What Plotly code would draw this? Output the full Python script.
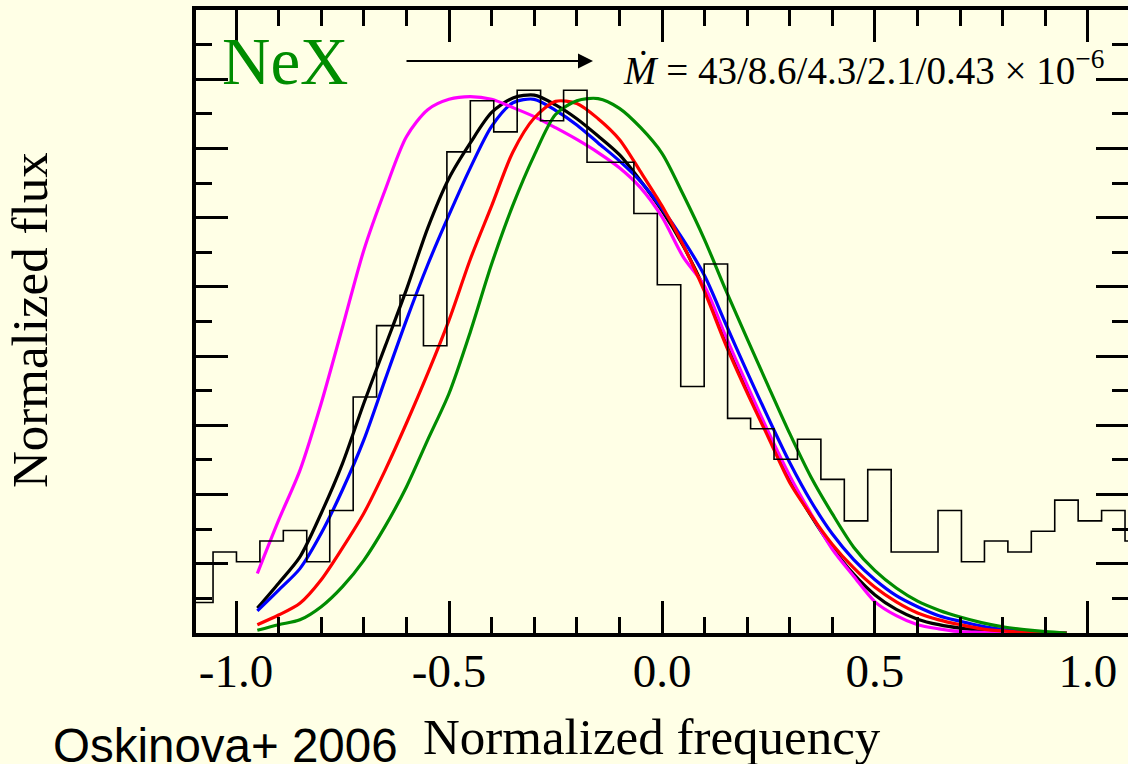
import plotly.graph_objects as go

# ---------------- data ----------------
FREQ = [-0.95, -0.90, -0.85, -0.80, -0.75, -0.70, -0.65, -0.60, -0.55, -0.50,
        -0.45, -0.40, -0.35, -0.30, -0.25, -0.20, -0.15, -0.10, -0.05, 0.00,
        0.05, 0.10, 0.15, 0.20, 0.25, 0.30, 0.35, 0.40, 0.45, 0.50,
        0.55, 0.60, 0.65, 0.70, 0.75, 0.80, 0.85, 0.90, 0.95]

MODEL_43 = [0.086, 0.163, 0.235, 0.332, 0.442, 0.553, 0.640, 0.717, 0.756, 0.771,
            0.775, 0.771, 0.759, 0.746, 0.730, 0.713, 0.694, 0.672, 0.643, 0.601,
            0.543, 0.501, 0.428, 0.358, 0.290, 0.227, 0.172, 0.121, 0.082, 0.045,
            0.025, 0.012, 0.006, 0.002, 0.001, 0.0, 0.0, 0.0, 0.0]
MODEL_8_6 = [0.036, 0.072, 0.110, 0.173, 0.245, 0.332, 0.414, 0.496, 0.585, 0.657,
             0.708, 0.752, 0.773, 0.777, 0.763, 0.743, 0.718, 0.691, 0.653, 0.610,
             0.559, 0.497, 0.423, 0.353, 0.286, 0.222, 0.169, 0.123, 0.085, 0.055,
             0.034, 0.020, 0.012, 0.007, 0.004, 0.002, 0.001, 0.0, 0.0]
MODEL_4_3 = [0.032, 0.062, 0.093, 0.144, 0.207, 0.279, 0.366, 0.452, 0.532, 0.604,
             0.672, 0.732, 0.766, 0.771, 0.755, 0.734, 0.708, 0.682, 0.652, 0.613,
             0.568, 0.516, 0.446, 0.377, 0.310, 0.246, 0.190, 0.143, 0.106, 0.077,
             0.054, 0.038, 0.025, 0.017, 0.010, 0.005, 0.003, 0.001, 0.0]
MODEL_2_1 = [0.012, 0.026, 0.043, 0.077, 0.123, 0.173, 0.235, 0.303, 0.375, 0.452,
             0.540, 0.617, 0.695, 0.744, 0.768, 0.765, 0.743, 0.713, 0.666, 0.617,
             0.560, 0.493, 0.416, 0.347, 0.282, 0.217, 0.170, 0.128, 0.094, 0.066,
             0.045, 0.029, 0.019, 0.012, 0.006, 0.003, 0.001, 0.0, 0.0]
MODEL_0_43 = [0.004, 0.012, 0.019, 0.038, 0.067, 0.105, 0.154, 0.211, 0.279, 0.346,
              0.435, 0.533, 0.618, 0.690, 0.749, 0.769, 0.772, 0.758, 0.730, 0.693,
              0.633, 0.568, 0.495, 0.425, 0.356, 0.288, 0.225, 0.172, 0.124, 0.090,
              0.065, 0.046, 0.033, 0.023, 0.015, 0.009, 0.005, 0.002, 0.0]

BIN_EDGES = [-1.109, -1.054, -0.999, -0.944, -0.889, -0.834, -0.780, -0.725, -0.670, -0.615,
             -0.560, -0.505, -0.450, -0.395, -0.340, -0.285, -0.231, -0.176, -0.121, -0.066,
             -0.011, 0.044, 0.099, 0.154, 0.208, 0.263, 0.318, 0.373, 0.428, 0.483,
             0.538, 0.593, 0.648, 0.703, 0.757, 0.812, 0.867, 0.922, 0.977, 1.032,
             1.087, 1.142]
OBS_FLUX = [0.044, 0.117, 0.103, 0.133, 0.148, 0.103, 0.177, 0.341, 0.444, 0.488,
            0.415, 0.695, 0.769, 0.724, 0.784, 0.740, 0.784, 0.680, 0.680, 0.606,
            0.503, 0.356, 0.533, 0.310, 0.295, 0.251, 0.280, 0.222, 0.162, 0.236,
            0.117, 0.117, 0.177, 0.103, 0.133, 0.117, 0.147, 0.192, 0.162, 0.177,
            0.133]

X_TICKS = [-1.0, -0.5, 0.0, 0.5, 1.0]
X_TICK_TEXT = ["-1.0", "-0.5", "0.0", "0.5", "1.0"]

BG = "#FFFFE6"
GREEN = "#008C00"
SERIF = "Liberation Serif, Times New Roman, serif"
SANS = "Liberation Sans, Arial, sans-serif"

# plot-area geometry (pixels) used only for placing annotations
L, R, T, B = 196, 1128, 10, 633
W, H = R - L, B - T


def px(p):
    return (p - L) / W


def py(p):
    return (B - p) / H


fig = go.Figure()

fig.add_trace(go.Scatter(
    x=BIN_EDGES, y=OBS_FLUX + [OBS_FLUX[-1]], mode="lines", yaxis="y2",
    line=dict(shape="hv", color="black", width=1.6), hoverinfo="skip"))

models = [
    ("8.6", "black", MODEL_8_6),
    ("4.3", "#0000FF", MODEL_4_3),
    ("43", "#FF00FF", MODEL_43),
    ("2.1", "#FF0000", MODEL_2_1),
    ("0.43", GREEN, MODEL_0_43),
]
for name, color, vals in models:
    fig.add_trace(go.Scatter(
        x=FREQ, y=vals, mode="lines", name=name,
        line=dict(color=color, width=3.2, shape="spline", smoothing=0.8)))

tick_common = dict(ticks="inside", ticklen=32, tickwidth=2.5, tickcolor="black",
                   showgrid=False, zeroline=False)

fig.update_layout(
    width=1128, height=764,
    margin=dict(l=L, r=1128 - R, t=T, b=764 - B),
    paper_bgcolor=BG, plot_bgcolor=BG,
    showlegend=False,
    font=dict(family=SERIF, color="black"),
    xaxis=dict(
        range=[-1.094, 1.094], showline=True, linewidth=4, linecolor="black",
        mirror="ticks", tickmode="array", tickvals=X_TICKS, ticktext=X_TICK_TEXT,
        tickfont=dict(family=SERIF, size=47, color="black"),
        ticklabelstandoff=-6,
        minor=dict(dtick=0.1, tick0=0, ticklen=16, tickwidth=2.5, tickcolor="black",
                   ticks="inside"),
        **tick_common),
    yaxis=dict(
        range=[0, 0.9], showline=True, linewidth=4, linecolor="black",
        tickmode="linear", tick0=0, dtick=0.1, showticklabels=False,
        minor=dict(dtick=0.05, tick0=0, ticklen=16, tickwidth=2.5, tickcolor="black",
                   ticks="inside"),
        **tick_common),
    yaxis2=dict(
        range=[0, 0.9], overlaying="y", side="right", anchor="x", showline=False,
        tickmode="linear", tick0=0, dtick=0.1, showticklabels=False,
        minor=dict(dtick=0.05, tick0=0, ticklen=16, tickwidth=2.5, tickcolor="black",
                   ticks="inside"),
        **tick_common),
)

annotations = [
    dict(text="NeX", x=px(220), y=py(61), xanchor="left", yanchor="middle",
         font=dict(family=SERIF, size=67, color=GREEN), showarrow=False),
    dict(text="<i>Ṁ</i> = 43/8.6/4.3/2.1/0.43 × 10<sup>−6</sup>",
         x=px(621), y=py(68), xanchor="left", yanchor="middle",
         font=dict(family=SERIF, size=39, color="black"), showarrow=False),
    dict(text="", x=px(593), y=py(61), ax=-188, ay=0, showarrow=True,
         arrowhead=2, arrowsize=1.5, arrowwidth=2, arrowcolor="black"),
    dict(text="Normalized flux", x=px(30), y=py(320), textangle=-90,
         xanchor="center", yanchor="middle",
         font=dict(family=SERIF, size=51, color="black"), showarrow=False),
    dict(text="Normalized frequency", x=px(652), y=py(737),
         xanchor="center", yanchor="middle",
         font=dict(family=SERIF, size=51, color="black"), showarrow=False),
    dict(text="Oskinova+ 2006", x=px(51), y=py(745), xanchor="left", yanchor="middle",
         font=dict(family=SANS, size=47.5, color="black"), showarrow=False),
]
for a in annotations:
    a.update(xref="paper", yref="paper")
fig.update_layout(annotations=annotations)

fig.write_html("out.html")
